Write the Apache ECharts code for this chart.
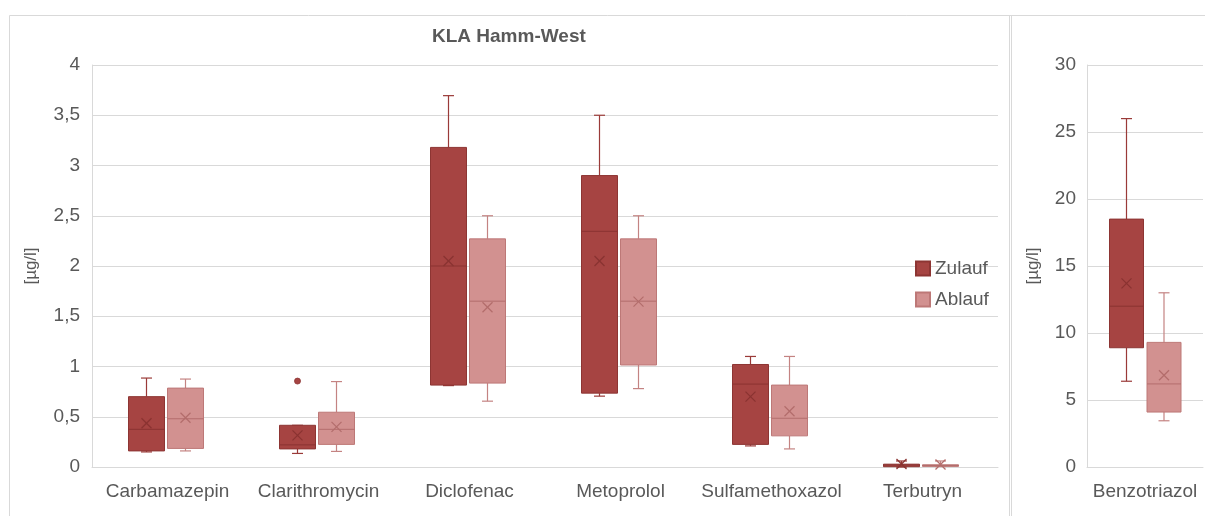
<!DOCTYPE html>
<html>
<head>
<meta charset="utf-8">
<script src="https://cdn.jsdelivr.net/npm/echarts@6/dist/echarts.min.js"></script>
<style>html,body{margin:0;padding:0;background:#fff}#c{width:1205px;height:516px}</style>
</head>
<body>
<div id="c"></div>
<script>
// ---- data ----
const title = 'KLA Hamm-West';
const unitLabel = '[µg/l]';
const categories = ['Carbamazepin', 'Clarithromycin', 'Diclofenac', 'Metoprolol', 'Sulfamethoxazol', 'Terbutryn'];
// [min, q1, median, q3, max]
const zulauf = [
  [0.15, 0.16, 0.375, 0.70, 0.885],
  [0.135, 0.18, 0.22, 0.415, 0.415],
  [0.81, 0.815, 2.0, 3.18, 3.695],
  [0.705, 0.735, 2.345, 2.90, 3.50],
  [0.21, 0.225, 0.825, 1.02, 1.10],
  [0.0, 0.003, 0.02, 0.028, 0.06]
];
const zulaufMean = [0.435, 0.315, 2.05, 2.05, 0.70, 0.03];
const zulaufOutliers = [[1, 0.855]];
const ablauf = [
  [0.16, 0.185, 0.48, 0.785, 0.875],
  [0.155, 0.225, 0.375, 0.545, 0.85],
  [0.655, 0.835, 1.65, 2.27, 2.50],
  [0.78, 1.015, 1.65, 2.27, 2.50],
  [0.18, 0.31, 0.485, 0.815, 1.10],
  [0.005, 0.006, 0.015, 0.022, 0.06]
];
const ablaufMean = [0.49, 0.40, 1.59, 1.645, 0.555, 0.025];

const categories2 = ['Benzotriazol'];
const zulauf2 = [[6.4, 8.9, 12.0, 18.5, 26.0]];
const zulauf2Mean = [13.7];
const ablauf2 = [[3.45, 4.1, 6.2, 9.3, 13.0]];
const ablauf2Mean = [6.85];

const yTicksLeft = [0, 0.5, 1, 1.5, 2, 2.5, 3, 3.5, 4];
const yTicksRight = [0, 5, 10, 15, 20, 25, 30];

// ---- styles ----
const TXT = '#595959';
const GRID = '#d9d9d9';
const FONT = '"Liberation Sans", Arial, sans-serif';
const Z = {fill: '#a64442', border: '#8d3533', line: '#9a3a38', median: '#8a3331', mean: '#8a3331'};
const A = {fill: '#d29190', border: '#bd7877', line: '#c48382', median: '#b36d6c', mean: '#b36d6c'};

function rows(stats, means) {
  return stats.map((s, i) => [i, s[0], s[1], s[2], s[3], s[4], means[i]]);
}

function boxRender(offset, width, c) {
  return function (params, api) {
    const cat = api.value(0);
    const cx = api.coord([cat, 0])[0] + offset;
    const y = v => api.coord([cat, v])[1];
    const yMin = y(api.value(1)), yQ1 = y(api.value(2)), yMed = y(api.value(3)),
          yQ3 = y(api.value(4)), yMax = y(api.value(5)), yMean = y(api.value(6));
    const half = width / 2, cap = 5.5, m = 5;
    const ls = {stroke: c.line, lineWidth: 1.2};
    return {
      type: 'group',
      children: [
        {type: 'line', shape: {x1: cx, y1: yQ3, x2: cx, y2: yMax}, style: ls},
        {type: 'line', shape: {x1: cx - cap, y1: yMax, x2: cx + cap, y2: yMax}, style: ls},
        {type: 'line', shape: {x1: cx, y1: yQ1, x2: cx, y2: yMin}, style: ls},
        {type: 'line', shape: {x1: cx - cap, y1: yMin, x2: cx + cap, y2: yMin}, style: ls},
        {type: 'rect', shape: {x: cx - half, y: yQ3, width: width, height: Math.max(yQ1 - yQ3, 1)},
          style: {fill: c.fill, stroke: c.border, lineWidth: 1}},
        {type: 'line', shape: {x1: cx - half, y1: yMed, x2: cx + half, y2: yMed}, style: {stroke: c.median, lineWidth: 1}},
        {type: 'line', shape: {x1: cx - m, y1: yMean - m, x2: cx + m, y2: yMean + m}, style: {stroke: c.mean, lineWidth: 1.2}},
        {type: 'line', shape: {x1: cx - m, y1: yMean + m, x2: cx + m, y2: yMean - m}, style: {stroke: c.mean, lineWidth: 1.2}}
      ]
    };
  };
}

function outlierRender(offset, c) {
  return function (params, api) {
    const p = api.coord([api.value(0), api.value(1)]);
    return {type: 'circle', shape: {cx: p[0] + offset, cy: p[1], r: 3}, style: {fill: c.fill, stroke: c.border, lineWidth: 0.8}};
  };
}

const commaFmt = v => String(v).replace('.', ',');

const chart = echarts.init(document.getElementById('c'), null, {renderer: 'canvas'});
const option = {
  animation: false,
  backgroundColor: '#fff',
  title: {
    text: title, left: 432, top: 27, padding: 0,
    textStyle: {fontFamily: FONT, fontSize: 19, fontWeight: 'bold', color: TXT}
  },
  legend: {
    orient: 'vertical', left: 915, top: 259, padding: 0, itemWidth: 14, itemHeight: 14, itemGap: 12,
    icon: 'rect', data: ['Zulauf', 'Ablauf'],
    textStyle: {fontFamily: FONT, fontSize: 19, color: TXT}
  },
  grid: [
    {left: 92, top: 65, width: 906, height: 402},
    {left: 1087, top: 65, width: 116, height: 402}
  ],
  xAxis: [
    {type: 'category', gridIndex: 0, data: categories, axisTick: {show: false},
      axisLine: {lineStyle: {color: GRID}},
      axisLabel: {fontFamily: FONT, fontSize: 19, color: TXT, margin: 15, interval: 0}},
    {type: 'category', gridIndex: 1, data: categories2, axisTick: {show: false},
      axisLine: {lineStyle: {color: GRID}},
      axisLabel: {fontFamily: FONT, fontSize: 19, color: TXT, margin: 15, interval: 0}}
  ],
  yAxis: [
    {type: 'value', gridIndex: 0, min: yTicksLeft[0], max: yTicksLeft[yTicksLeft.length - 1], interval: yTicksLeft[1] - yTicksLeft[0],
      name: unitLabel, nameLocation: 'middle', nameGap: 52, nameRotate: 90,
      nameTextStyle: {fontFamily: FONT, fontSize: 17, color: TXT},
      axisLine: {show: true, lineStyle: {color: GRID}}, axisTick: {show: false},
      splitLine: {lineStyle: {color: GRID}},
      axisLabel: {fontFamily: FONT, fontSize: 19, color: TXT, margin: 12, formatter: commaFmt}},
    {type: 'value', gridIndex: 1, min: yTicksRight[0], max: yTicksRight[yTicksRight.length - 1], interval: yTicksRight[1] - yTicksRight[0],
      name: unitLabel, nameLocation: 'middle', nameGap: 45, nameRotate: 90,
      nameTextStyle: {fontFamily: FONT, fontSize: 17, color: TXT},
      axisLine: {show: true, lineStyle: {color: GRID}}, axisTick: {show: false},
      splitLine: {lineStyle: {color: GRID}},
      axisLabel: {fontFamily: FONT, fontSize: 19, color: TXT, margin: 11}}
  ],
  series: [
    {name: 'Zulauf', type: 'custom', xAxisIndex: 0, yAxisIndex: 0, data: rows(zulauf, zulaufMean),
      encode: {x: 0, y: [1, 2, 3, 4, 5, 6]}, renderItem: boxRender(-21, 36, Z),
      itemStyle: {color: Z.fill, borderColor: Z.border, borderWidth: 1}},
    {name: 'Ablauf', type: 'custom', xAxisIndex: 0, yAxisIndex: 0, data: rows(ablauf, ablaufMean),
      encode: {x: 0, y: [1, 2, 3, 4, 5, 6]}, renderItem: boxRender(18, 36, A),
      itemStyle: {color: A.fill, borderColor: A.border, borderWidth: 1}},
    {name: 'Zulauf', type: 'custom', xAxisIndex: 0, yAxisIndex: 0, data: zulaufOutliers,
      encode: {x: 0, y: 1}, renderItem: outlierRender(-21, Z),
      itemStyle: {color: Z.fill}},
    {name: 'Zulauf', type: 'custom', xAxisIndex: 1, yAxisIndex: 1, data: rows(zulauf2, zulauf2Mean),
      encode: {x: 0, y: [1, 2, 3, 4, 5, 6]}, renderItem: boxRender(-18.5, 34, Z),
      itemStyle: {color: Z.fill, borderColor: Z.border, borderWidth: 1}},
    {name: 'Ablauf', type: 'custom', xAxisIndex: 1, yAxisIndex: 1, data: rows(ablauf2, ablauf2Mean),
      encode: {x: 0, y: [1, 2, 3, 4, 5, 6]}, renderItem: boxRender(19, 34, A),
      itemStyle: {color: A.fill, borderColor: A.border, borderWidth: 1}}
  ],
  graphic: [
    {type: 'line', shape: {x1: 9.5, y1: 15.5, x2: 1205, y2: 15.5}, style: {stroke: GRID, lineWidth: 1}, silent: true},
    {type: 'line', shape: {x1: 9.5, y1: 15.5, x2: 9.5, y2: 516}, style: {stroke: GRID, lineWidth: 1}, silent: true},
    {type: 'line', shape: {x1: 1009.5, y1: 15.5, x2: 1009.5, y2: 516}, style: {stroke: GRID, lineWidth: 1}, silent: true},
    {type: 'line', shape: {x1: 1011.5, y1: 15.5, x2: 1011.5, y2: 516}, style: {stroke: GRID, lineWidth: 1}, silent: true}
  ]
};
chart.setOption(option);
</script>
</body>
</html>
